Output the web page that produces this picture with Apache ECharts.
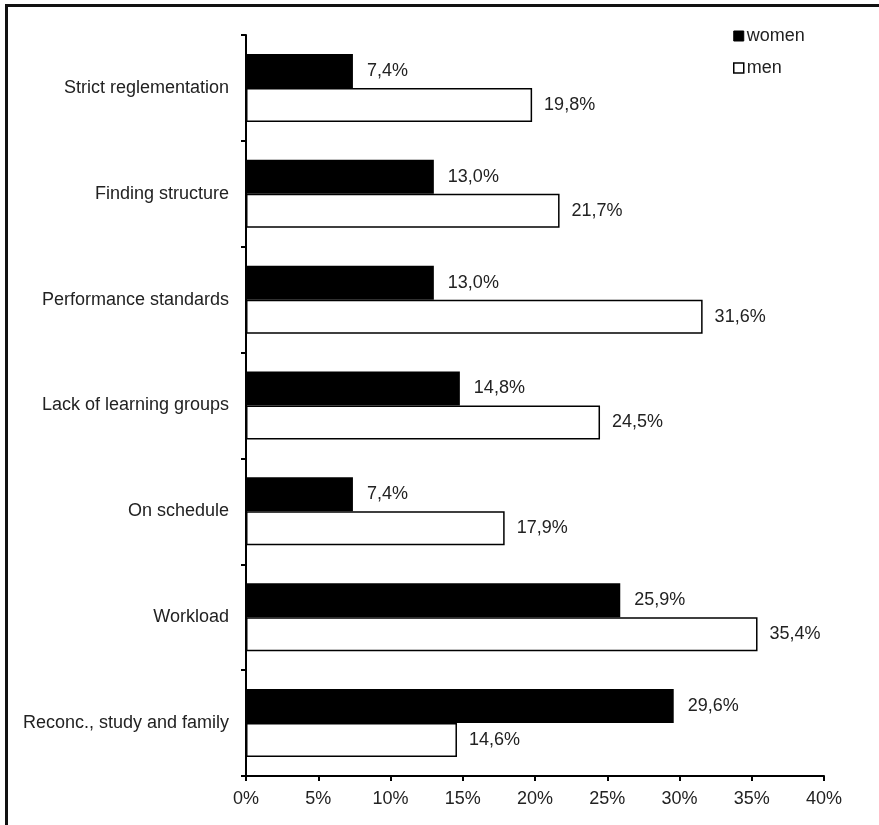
<!DOCTYPE html>
<html>
<head>
<meta charset="utf-8">
<script src="https://cdn.jsdelivr.net/npm/echarts@6/dist/echarts.min.js"></script>
<style>
  html, body { margin: 0; padding: 0; background: #fff; }
  #frame {
    position: absolute; left: 5px; top: 4px; width: 874px; height: 821px;
    border-top: 3px solid #111; border-left: 3px solid #111; box-sizing: border-box;
  }
  #chart { position: absolute; left: 0; top: 0; width: 879px; height: 825px; }
</style>
</head>
<body>
<div id="frame"></div>
<div id="chart"></div>
<script>
const categories = [
  "Strict reglementation",
  "Finding structure",
  "Performance standards",
  "Lack of learning groups",
  "On schedule",
  "Workload",
  "Reconc., study and family"
];
const women = [7.4, 13.0, 13.0, 14.8, 7.4, 25.9, 29.6];
const men = [19.8, 21.7, 31.6, 24.5, 17.9, 35.4, 14.6];
const xTicks = [0, 5, 10, 15, 20, 25, 30, 35, 40];

const fontFamily = "Liberation Sans, Arial, sans-serif";
const fontSize = 18;
const textColor = "#222";

const fmt = (v) => v.toFixed(1).replace(".", ",") + "%";

const chart = echarts.init(document.getElementById("chart"));

chart.setOption({
  animation: false,
  grid: { left: 246, right: 55, top: 35, bottom: 49, containLabel: false },
  legend: {
    orient: "vertical",
    left: 728,
    top: 22,
    itemWidth: 10,
    itemHeight: 10,
    itemGap: 14,
    icon: "rect",
    textStyle: { fontSize, color: textColor, fontFamily, padding: [0, 0, 0, -2] },
    data: [
      { name: "women", itemStyle: { color: "#000", borderColor: "#000", borderWidth: 1 } },
      { name: "men", itemStyle: { color: "#fff", borderColor: "#000", borderWidth: 1.5 } }
    ]
  },
  xAxis: {
    type: "value",
    min: xTicks[0],
    max: xTicks[xTicks.length - 1],
    interval: 5,
    axisLine: { show: true, lineStyle: { color: "#000", width: 2 } },
    axisTick: { show: true, length: 5, lineStyle: { color: "#000", width: 2 } },
    splitLine: { show: false },
    axisLabel: {
      margin: 14,
      fontSize,
      color: textColor,
      fontFamily,
      formatter: (v) => v + "%"
    }
  },
  yAxis: {
    type: "category",
    inverse: true,
    data: categories,
    axisLine: { show: true, lineStyle: { color: "#000", width: 2 } },
    axisTick: { show: true, length: 5, lineStyle: { color: "#000", width: 2 } },
    axisLabel: { margin: 17, fontSize, color: textColor, fontFamily }
  },
  series: [
    {
      name: "women",
      type: "bar",
      data: women,
      barWidth: 34,
      barGap: "0%",
      itemStyle: { color: "#000" },
      label: {
        show: true,
        position: "right",
        distance: 14,
        fontSize,
        color: textColor,
        fontFamily,
        formatter: (p) => fmt(p.value)
      }
    },
    {
      name: "men",
      type: "bar",
      data: men,
      barWidth: 34,
      barGap: "0%",
      itemStyle: { color: "#fff", borderColor: "#000", borderWidth: 1.5 },
      label: {
        show: true,
        position: "right",
        distance: 12,
        fontSize,
        color: textColor,
        fontFamily,
        formatter: (p) => fmt(p.value)
      }
    }
  ]
});
</script>
</body>
</html>
